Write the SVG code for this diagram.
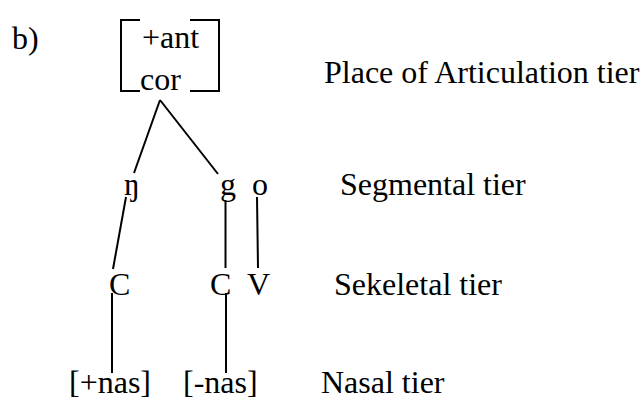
<svg xmlns="http://www.w3.org/2000/svg" width="644" height="399" viewBox="0 0 644 399">
  <style>
    text { font-family: "Liberation Serif", "Times New Roman", serif; font-size: 32px; fill: #000; }
    .ln { stroke: #000; stroke-width: 2; fill: none; }
  </style>
  <rect width="644" height="399" fill="#fff"/>

  <text x="12" y="49">b)</text>

  <!-- Place of articulation feature matrix -->
  <g id="place">
    <path class="ln" d="M140,20 H121 V91 H140 M190,20 H219 V91 H190"/>
    <text x="142" y="48">+ant</text>
    <text x="140" y="90">cor</text>
  </g>

  <!-- Segmental tier -->
  <g id="seg-ng"><text x="124" y="195">ŋ</text></g>
  <g id="seg-g"><text x="220" y="195">g</text></g>
  <g id="seg-o"><text x="252" y="195">o</text></g>

  <!-- Skeletal tier -->
  <g id="sk-c1"><text x="109" y="295">C</text></g>
  <g id="sk-c2"><text x="210" y="295">C</text></g>
  <g id="sk-v"><text x="247" y="295">V</text></g>

  <!-- Nasal tier -->
  <g id="nas-plus"><text x="69" y="393">[+nas]</text></g>
  <g id="nas-minus"><text x="183" y="393">[-nas]</text></g>

  <!-- Tier labels -->
  <g id="labels">
    <text x="324" y="83">Place of Articulation tier</text>
    <text x="340" y="195">Segmental tier</text>
    <text x="334" y="295">Sekeletal tier</text>
    <text x="321" y="393">Nasal tier</text>
  </g>

  <!-- Association lines -->
  <g id="connectors">
    <line class="ln" x1="160" y1="100" x2="134" y2="173"/>
    <line class="ln" x1="160" y1="100" x2="218" y2="174"/>
    <line class="ln" x1="126" y1="197" x2="113" y2="269"/>
    <line class="ln" x1="225.5" y1="200" x2="225.5" y2="268"/>
    <line class="ln" x1="257" y1="197" x2="258" y2="268"/>
    <line class="ln" x1="112" y1="293" x2="112" y2="373"/>
    <line class="ln" x1="226" y1="293" x2="226" y2="373"/>
  </g>
</svg>
